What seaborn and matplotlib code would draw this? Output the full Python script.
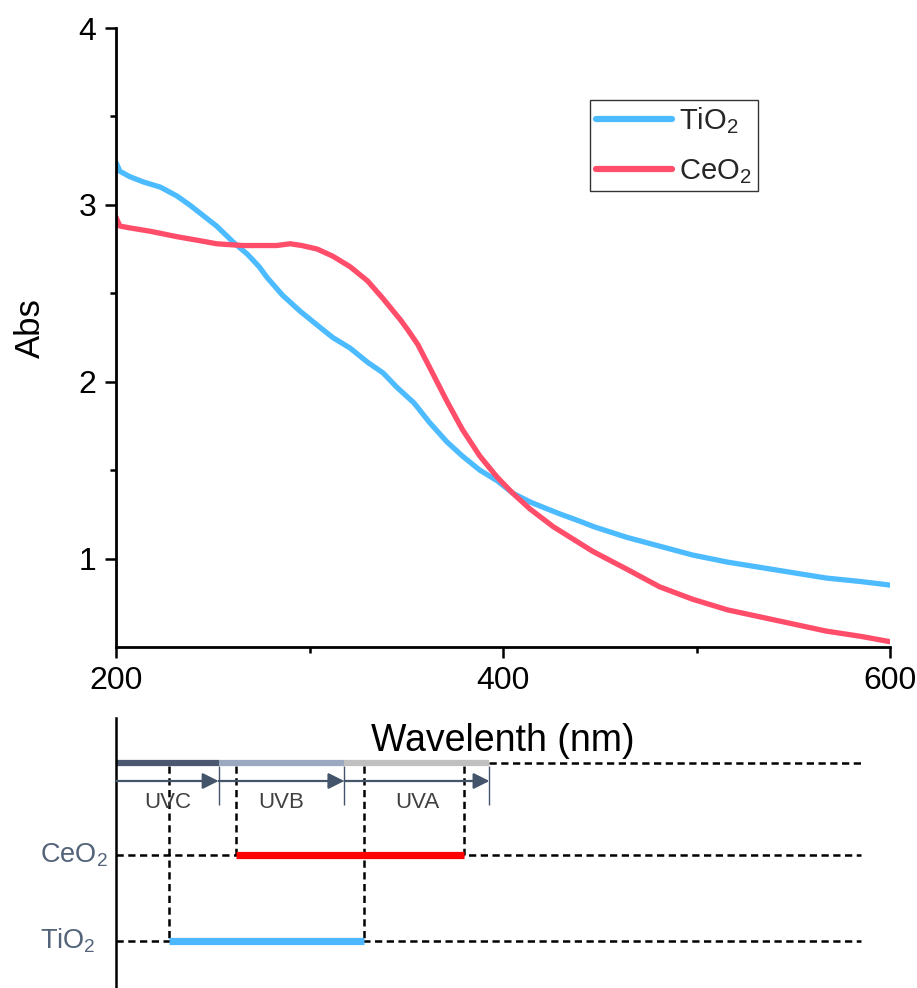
import numpy as np
import pandas as pd
import matplotlib.pyplot as plt
import seaborn as sns
from matplotlib.ticker import FixedLocator

# absorbance curves
tio2_nm = [200, 202, 207, 214, 223, 231.5, 238, 245, 252, 260.5, 268, 274, 278, 286, 295,
           304, 312, 321, 330, 338, 345, 354, 362, 371, 379, 388, 397, 405, 414, 423,
           430, 440, 447, 464, 481, 498, 516, 533, 550, 567, 585, 600]
tio2_abs = [3.24, 3.19, 3.16, 3.13, 3.10, 3.05, 3.00, 2.94, 2.88, 2.79, 2.72, 2.65, 2.59, 2.49, 2.40,
            2.32, 2.25, 2.19, 2.11, 2.05, 1.97, 1.88, 1.77, 1.66, 1.58, 1.50, 1.44, 1.37, 1.32, 1.28,
            1.25, 1.21, 1.18, 1.12, 1.07, 1.02, 0.98, 0.95, 0.92, 0.89, 0.87, 0.85]
ceo2_nm = [200, 202, 207, 218, 231.5, 242, 252, 265.6, 283, 290, 296, 304, 312, 321, 330,
           338, 347, 351, 356, 364, 371, 379, 388, 397, 405, 414, 426, 446.5, 464,
           481, 498, 516, 533, 550, 567, 585, 600]
ceo2_abs = [2.93, 2.88, 2.87, 2.85, 2.82, 2.80, 2.78, 2.77, 2.77, 2.78, 2.77, 2.75, 2.71, 2.65, 2.57,
            2.47, 2.35, 2.29, 2.21, 2.04, 1.89, 1.73, 1.58, 1.46, 1.37, 1.28, 1.18, 1.04, 0.94,
            0.84, 0.77, 0.71, 0.67, 0.63, 0.59, 0.56, 0.53]

# schematic below the spectrum (same wavelength scale)
uv_bands = ['UVC', 'UVB', 'UVA']
uv_edges = [200, 253, 318, 393]
uv_colors = ['#4b5870', '#9aa9bf', '#c0c0c0']
materials = ['CeO$_2$', 'TiO$_2$']
mat_ranges = [(262, 380), (227.5, 328)]
mat_colors = ['#ff0000', '#4db8ff']
guide_end = 585

df = pd.concat([
    pd.DataFrame({'nm': tio2_nm, 'Abs': tio2_abs, 'sample': 'TiO$_2$'}),
    pd.DataFrame({'nm': ceo2_nm, 'Abs': ceo2_abs, 'sample': 'CeO$_2$'}),
])

sns.set_theme(style='ticks')
plt.rcParams['font.family'] = ['Liberation Sans', 'DejaVu Sans']
plt.rcParams['mathtext.default'] = 'regular'

fig = plt.figure(figsize=(9.17, 9.88), dpi=100)
ax2 = fig.add_axes([116 / 917, 0, 774 / 917, 270 / 988])
ax = fig.add_axes([116 / 917, 1 - 647 / 988, 774 / 917, 619 / 988])
ax2.patch.set_visible(False)

sns.lineplot(data=df, x='nm', y='Abs', hue='sample', estimator=None, sort=True,
             palette={'TiO$_2$': '#4dbbff', 'CeO$_2$': '#ff4d6a'}, linewidth=3.8, ax=ax)

ax.set_xlim(200, 600)
ax.set_ylim(0.5, 4)
ax.xaxis.set_major_locator(FixedLocator([200, 400, 600]))
ax.xaxis.set_minor_locator(FixedLocator([300, 500]))
ax.yaxis.set_major_locator(FixedLocator([1, 2, 3, 4]))
ax.yaxis.set_minor_locator(FixedLocator([1.5, 2.5, 3.5]))
ax.tick_params(which='major', length=8, width=1.8, labelsize=23, pad=6, color='black', labelcolor='black')
ax.tick_params(which='minor', length=4, width=1.8, color='black')
sns.despine(ax=ax)
for s in ['left', 'bottom']:
    ax.spines[s].set_linewidth(2)
    ax.spines[s].set_color('black')

ax.set_xlabel('Wavelenth (nm)', fontsize=27, color='black')
ax.xaxis.label.set_va('center')
ax.xaxis.set_label_coords(0.5, -0.152)
ax.set_ylabel('Abs', fontsize=25, color='black')
ax.yaxis.label.set_va('center')
ax.yaxis.set_label_coords(-0.111, 0.515)

leg = ax.legend(loc='upper right', bbox_to_anchor=(0.829, 0.884), borderaxespad=0,
                fontsize=21, frameon=True, fancybox=False, handlelength=2.6,
                handletextpad=0.25, borderpad=0.2, labelspacing=0.7)
leg.get_frame().set_edgecolor('black')
leg.get_frame().set_linewidth(1)
for line in leg.get_lines():
    line.set_linewidth(4.5)

# ---- lower schematic ----
row_band, row_arrow, row_label, row_ceo2, row_tio2 = 45, 63, 84, 137, 223
ax2.set_xlim(200, 600)
ax2.set_ylim(270, 0)
ax2.set_xticks([])
ax2.set_yticks([])
for s in ['top', 'right', 'bottom']:
    ax2.spines[s].set_visible(False)
ax2.spines['left'].set_linewidth(1.8)
ax2.spines['left'].set_color('black')

dash = dict(color='black', linewidth=1.8, linestyles=(0, (2.9, 1.8)))
ax2.hlines(row_band, uv_edges[-1], guide_end, **dash)
mat_rows = [row_ceo2, row_tio2]
for (lo, hi), r in zip(mat_ranges, mat_rows):
    ax2.hlines(r, 200, guide_end, **dash)
    ax2.vlines([lo, hi], row_band + 3, r, **dash)

for i, name in enumerate(uv_bands):
    a, b = uv_edges[i], uv_edges[i + 1]
    ax2.hlines(row_band, a, b, color=uv_colors[i], linewidth=4.5)
    ax2.annotate('', xy=(b, row_arrow), xytext=(a, row_arrow),
                 arrowprops=dict(arrowstyle='-|>', color='#44546a', lw=1.6,
                                 mutation_scale=24, shrinkA=0, shrinkB=0))
    ax2.vlines(b, row_band + 3, row_label + 3, color='#44546a', linewidth=1)
    ax2.text((a + b) / 2, row_label, name, ha='center', va='center',
             fontsize=16, color='#404040')

for (lo, hi), r, c, name in zip(mat_ranges, mat_rows, mat_colors, materials):
    ax2.hlines(r, lo, hi, color=c, linewidth=5.2)
    ax2.text(-0.0982, 1 - r / 270, name, transform=ax2.transAxes, ha='left',
             va='center', fontsize=19.5, color='#536379')

fig.savefig('out.png', dpi=100)
